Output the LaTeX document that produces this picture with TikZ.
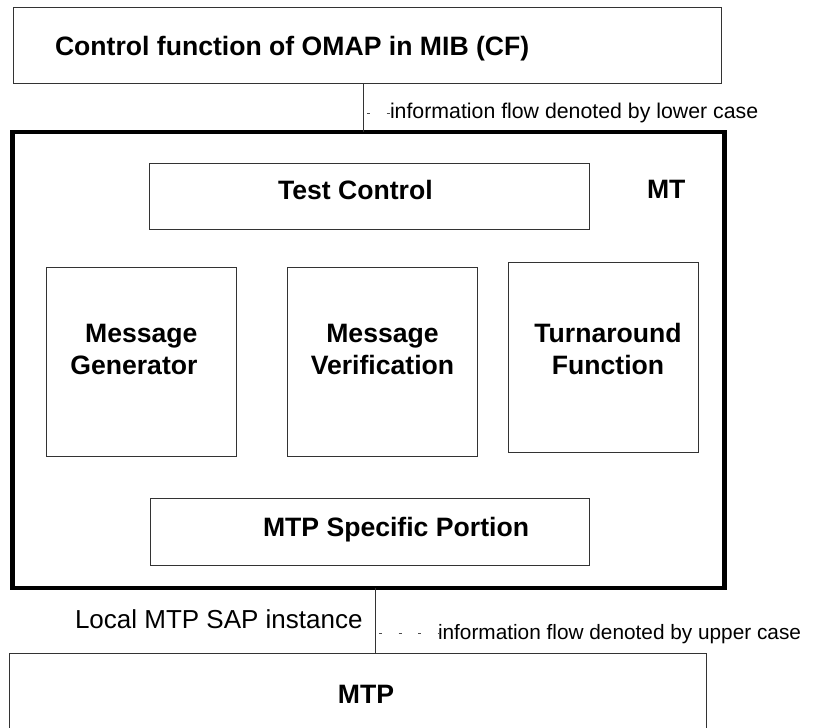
\documentclass[tikz,border=0pt]{standalone}
\usepackage{fontspec}
\setmainfont{Liberation Sans}
\begin{document}
\begin{tikzpicture}[x=1pt,y=-1pt,
  box/.style={draw=black!80,line width=1pt,rectangle,inner sep=0pt,outer sep=0pt},
  thickbox/.style={draw=black,line width=4.5pt,rectangle,inner sep=0pt,outer sep=0pt},
  bold/.style={font=\fontsize{26.6}{32}\selectfont\bfseries,inner sep=0pt,outer sep=0pt},
  plain/.style={font=\fontsize{21.3}{26}\selectfont,inner sep=0pt,outer sep=0pt},
  link/.style={draw=black!80,line width=1pt},
  flow/.style={draw=black!70,line width=0.8pt,dash pattern=on 3pt off 16.5pt,dash phase=15.5pt}]
\useasboundingbox (0,0) rectangle (815,728);
\clip (0,0) rectangle (815,728);
\fill[white] (0,0) rectangle (815,728);

% boxes
\node[box,minimum width=708pt,minimum height=76pt] (cf) at (367,45) {};
\node[thickbox,minimum width=712pt,minimum height=456pt] (mt) at (368.5,360) {};
\node[box,minimum width=439.5pt,minimum height=66pt] (tc) at (369.25,196) {};
\node[box,minimum width=190pt,minimum height=189pt] (mg) at (141,361.5) {};
\node[box,minimum width=190pt,minimum height=189pt] (mv) at (382,361.5) {};
\node[box,minimum width=190pt,minimum height=190pt] (tf) at (603,357) {};
\node[box,minimum width=439pt,minimum height=67pt] (sp) at (369.5,531.5) {};
\node[box,minimum width=696.5pt,minimum height=147pt] (mtp) at (357.75,726.5) {};

% labels
\node[bold,anchor=base west] (cft) at (55,55) {Control function of OMAP in MIB (CF)};
\node[bold,anchor=base west] (tct) at (278,199) {Test Control};
\node[bold,anchor=base west] (mtt) at (647,198) {MT};
\node[bold,align=right,anchor=north east] (mgt) at (197.5,324.5) {Message\\Generator};
\node[bold,align=center,anchor=north] (mvt) at (382.5,324.5) {Message\\Verification};
\node[bold,align=center,anchor=north] (tft) at (608,323) {Turnaround\\Function};
\node[bold,anchor=base west] (spt) at (263,536) {MTP Specific Portion};
\node[bold,anchor=base] (mtpt) at (366,703) {MTP};

\node[plain,anchor=base west] (low) at (390,118.5) {information flow denoted by lower case};
\node[plain,font=\fontsize{26}{30}\selectfont,anchor=base west] (sap) at (75,628.5) {Local MTP SAP instance};
\node[plain,font=\fontsize{20.8}{25}\selectfont,anchor=base west] (up) at (438,639) {information flow denoted by upper case};

% connectors
\coordinate (c1) at (363,0);
\coordinate (c2) at (375,0);
\path[link] (c1 |- cf.south) -- (c1 |- mt.north);
\path[link] (c2 |- mt.south) -- (c2 |- mtp.north);
\path[flow] (c1 |- low.west) -- (low.west);
\path[flow] (c2 |- up.west) -- (up.west);
\end{tikzpicture}
\end{document}
